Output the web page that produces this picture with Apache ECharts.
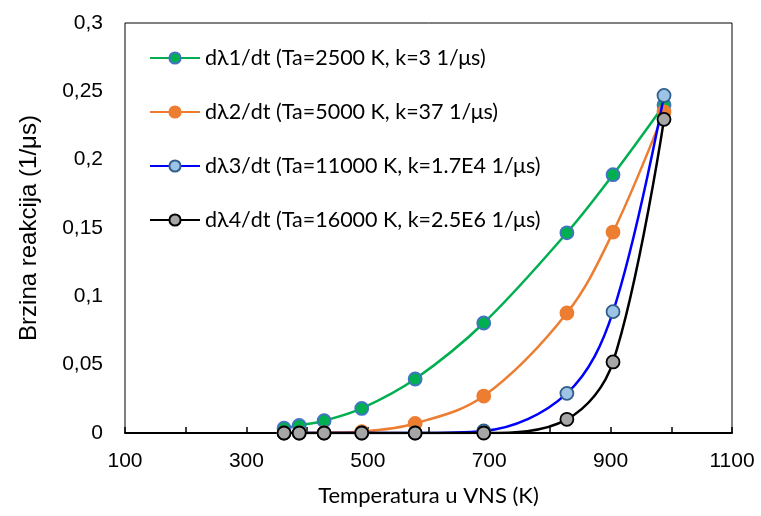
<!DOCTYPE html>
<html>
<head>
<meta charset="utf-8">
<script src="https://cdn.jsdelivr.net/npm/echarts@6/dist/echarts.min.js"></script>
<style>html,body{margin:0;padding:0;background:#fff}#c{width:761px;height:516px}</style>
</head>
<body>
<div id="c"></div>
<script>
const temps = [362, 387, 428, 490, 578, 691, 828, 904, 988];
const rate1 = [0.0035, 0.0055, 0.009, 0.018, 0.0395, 0.0805, 0.1465, 0.189, 0.240];
const rate2 = [0, 0, 0.0002, 0.001, 0.007, 0.027, 0.0878, 0.147, 0.235];
const rate3 = [0, 0, 0, 0, 0, 0.0015, 0.029, 0.0888, 0.247];
const rate4 = [0, 0, 0, 0, 0, 0, 0.010, 0.052, 0.2295];
const names = ['dλ1/dt (Ta=2500 K, k=3 1/μs)', 'dλ2/dt (Ta=5000 K, k=37 1/μs)', 'dλ3/dt (Ta=11000 K, k=1.7E4 1/μs)', 'dλ4/dt (Ta=16000 K, k=2.5E6 1/μs)'];
const xTitle = 'Temperatura u VNS (K)';
const yTitle = 'Brzina reakcija (1/μs)';

const styles = [
  {line: '#00B050', fill: '#00B050', border: '#4472C4'},
  {line: '#ED7D31', fill: '#ED7D31', border: '#ED7D31'},
  {line: '#0000FF', fill: '#9DC3E6', border: '#2F5F8A'},
  {line: '#000000', fill: '#A6A6A6', border: '#000000'}
];
const all = [rate1, rate2, rate3, rate4];
const series = all.map((arr, i) => ({
  name: names[i], type: 'line', smooth: 0.35,
  data: temps.map((t, j) => [t, arr[j]]),
  symbol: 'circle', symbolSize: 13,
  lineStyle: {color: styles[i].line, width: 2.5},
  itemStyle: {color: styles[i].fill, borderColor: styles[i].border, borderWidth: 1.8},
  z: 2 + i
}));

const chart = echarts.init(document.getElementById('c'));
chart.setOption({
  animation: false,
  grid: {left: 125, right: 29, top: 23, bottom: 83, show: true, borderColor: '#000', borderWidth: 1},
  legend: {
    orient: 'vertical', left: 144, top: 42, itemGap: 32,
    itemWidth: 50, itemHeight: 14,
    textStyle: {fontFamily: 'Lato', fontSize: 21.5, lineHeight: 22, color: '#000'},
    data: names
  },
  xAxis: {
    type: 'value', min: 100, max: 1100, interval: 100,
    name: xTitle, nameLocation: 'middle', nameGap: 52,
    nameTextStyle: {fontFamily: 'Lato', fontSize: 22, color: '#000'},
    axisLine: {lineStyle: {color: '#000', width: 2}},
    axisTick: {inside: true, length: 6, lineStyle: {color: '#000', width: 1.5}},
    axisLabel: {margin: 18, fontFamily: 'Liberation Sans', fontSize: 21, color: '#000',
      formatter: v => ((v - 100) % 200 === 0 ? String(v) : '')},
    splitLine: {show: false}
  },
  yAxis: {
    type: 'value', min: 0, max: 0.3, interval: 0.05,
    name: yTitle, nameLocation: 'middle', nameGap: 84,
    nameTextStyle: {fontFamily: 'Liberation Sans', fontSize: 24, color: '#000'},
    axisLine: {show: false}, axisTick: {show: false},
    axisLabel: {margin: 22, fontFamily: 'Liberation Sans', fontSize: 21, color: '#000',
      formatter: v => String(Math.round(v * 100) / 100).replace('.', ',')},
    splitLine: {show: false}
  },
  series: series
});
</script>
</body>
</html>
